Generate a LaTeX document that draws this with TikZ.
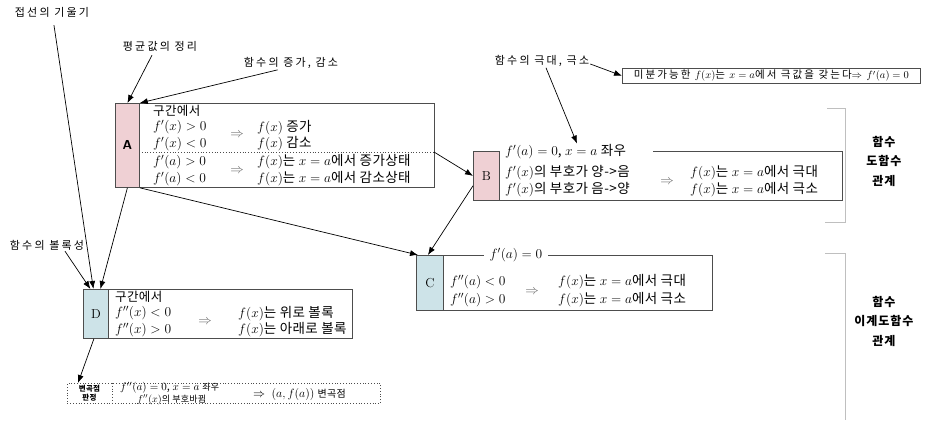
\RequirePackage{fix-cm}
\documentclass[tikz,border=0pt]{standalone}
\usepackage{fontspec}
\newfontfamily\kr[LetterSpace=3]{Noto Sans CJK KR}
\newfontfamily\krl[LetterSpace=20]{Noto Sans CJK KR}
\newfontfamily\krm[LetterSpace=8]{Noto Sans CJK KR}
\usetikzlibrary{arrows.meta,calc}
\definecolor{pinkc}{HTML}{EFD0D4}
\definecolor{bluec}{HTML}{CDE3E8}
\definecolor{edgec}{HTML}{4D4D4D}
\definecolor{brkc}{HTML}{BFBFBF}
\begin{document}
\begin{tikzpicture}[x=1pt,y=-1pt,
  lbl/.style={font=\krl\fontsize{11}{13}\selectfont, inner sep=1pt},
  txt/.style={font=\kr\fontsize{13.5}{15}\selectfont, anchor=west, inner sep=0pt},
  head/.style={font=\kr\fontsize{12.5}{14}\selectfont, anchor=west, inner sep=0pt},
  frame/.style={draw=edgec, line width=0.8pt, anchor=north west, inner sep=0pt},
  cell/.style={draw=edgec, line width=0.8pt, anchor=north west, inner sep=0pt, font=\fontsize{13}{15}\selectfont},
  arr/.style={-{Latex[length=8pt,width=6pt]}, line width=0.7pt},
  imp/.style={font=\fontsize{13.5}{15}\selectfont, inner sep=0pt, text=black!60},
  small/.style={font=\kr\fontsize{9}{11}\selectfont, anchor=west, inner sep=0pt},
  side/.style={font=\krm\bfseries\fontsize{12}{19.5}\selectfont, align=center}
]
\path[use as bounding box] (0,0) rectangle (925,420);

% ---------- labels ----------
\node[lbl] (L1) at (52,12) {접선의 기울기};
\node[lbl] (L2) at (160,46) {평균값의 정리};
\node[lbl] (L3) at (291,63) {함수의 증가, 감소};
\node[lbl] (L4) at (542,61) {함수의 극대, 극소};
\node[lbl] (L5) at (47,245) {함수의 볼록성};

% ---------- top right box ----------
\node[frame, line width=0.6pt, minimum width=298pt, minimum height=15pt] (M) at (622,68) {};
\node[font=\krl\fontsize{10.5}{12}\selectfont, inner sep=0pt] (Mtxt) at (M.center) {미분가능한 $f(x)$는 $x=a$에서 극값을 갖는다$\Rightarrow$ $f'(a)=0$};

% ---------- A ----------
\node[frame, minimum width=319pt, minimum height=84pt] (Abox) at (115,103) {};
\node[cell, fill=pinkc, minimum width=24pt, minimum height=84pt] (A) at (115,103) {\sffamily\bfseries A};
\coordinate (adl) at (139,152);
\coordinate (adot) at (434,152);
\draw[edgec, dotted, line width=0.8pt] (adl) -- (adot);
\node[head] (a1) at (153,111) {구간에서};
\node[txt] (a2) at (153,127.5) {$f'(x)>0$};
\node[txt] (a3) at (153,144) {$f'(x)<0$};
\node[txt] (a4) at (153,162) {$f'(a)>0$};
\node[txt] (a5) at (153,179) {$f'(a)<0$};
\node[imp] (ai1) at (237,135) {$\Rightarrow$};
\node[imp] (ai2) at (237,171) {$\Rightarrow$};
\node[txt] (a6) at (257,127.5) {$f(x)$ 증가};
\node[txt] (a7) at (257,144) {$f(x)$ 감소};
\node[txt] (a8) at (257,162) {$f(x)$는 $x=a$에서 증가상태};
\node[txt] (a9) at (257,179) {$f(x)$는 $x=a$에서 감소상태};

% ---------- B ----------
\node[frame, draw=none, minimum width=369pt, minimum height=49pt] (Bbox) at (473,151) {};
\node[cell, fill=pinkc, minimum width=26pt, minimum height=49pt] (B) at (473,151) {B};
\coordinate (btl) at (653,151);
\draw[edgec, line width=0.8pt] (btl) -- (Bbox.north east) -- (Bbox.south east) -- (Bbox.south west);
\node[txt] (Btop) at (505,152) {$f'(a)=0$, $x=a$ 좌우};
\node[txt] (b1) at (505,173) {$f'(x)$의 부호가 양->음};
\node[txt] (b2) at (505,190) {$f'(x)$의 부호가 음->양};
\node[imp] (bi) at (667,182) {$\Rightarrow$};
\node[txt] (b3) at (690,173) {$f(x)$는 $x=a$에서 극대};
\node[txt] (b4) at (690,190) {$f(x)$는 $x=a$에서 극소};

% ---------- C ----------
\node[frame, minimum width=296pt, minimum height=55pt] (Cbox) at (416,255) {};
\node[cell, fill=bluec, minimum width=27pt, minimum height=55pt] (C) at (416,255) {C};
\node[txt, anchor=center, fill=white, inner xsep=6pt, inner ysep=1pt] (Ctop) at (516,255) {$f'(a)=0$};
\node[txt] (c1) at (450,282) {$f''(a)<0$};
\node[txt] (c2) at (450,300) {$f''(a)>0$};
\node[imp] (ci) at (532,292) {$\Rightarrow$};
\node[txt] (c3) at (558,282) {$f(x)$는 $x=a$에서 극대};
\node[txt] (c4) at (558,300) {$f(x)$는 $x=a$에서 극소};

% ---------- D ----------
\node[frame, minimum width=269pt, minimum height=49pt] (Dbox) at (83,289) {};
\node[cell, fill=bluec, minimum width=25pt, minimum height=49pt] (D) at (83,289) {D};
\node[head] (d1t) at (115,297) {구간에서};
\node[txt] (d2t) at (115,313.5) {$f''(x)<0$};
\node[txt] (d3t) at (115,330) {$f''(x)>0$};
\node[imp] (di) at (205,322) {$\Rightarrow$};
\node[txt] (d4t) at (238,313.5) {$f(x)$는 위로 볼록};
\node[txt] (d5t) at (238,330) {$f(x)$는 아래로 볼록};

% ---------- inflection ----------
\node[frame, dotted, minimum width=313pt, minimum height=20pt] (Ibox) at (67,383) {};
\draw[edgec, dotted, line width=0.8pt] ($(Ibox.north west)+(45,0)$) -- ($(Ibox.south west)+(45,0)$);
\node[font=\kr\bfseries\fontsize{7.5}{9.5}\selectfont, align=center, inner sep=0pt] (Ilab) at (89.5,393) {변곡점\\판정};
\node[small] (i1) at (120,387.5) {\fontsize{11}{13}\selectfont$f''(a)=0$, $x=a$ \fontsize{9}{11}\selectfont 좌우};
\node[small] (i2) at (137,399.5) {\fontsize{10}{12}\selectfont$f''(x)$\fontsize{9}{11}\selectfont 의 부호바뀜};
\node[small] (i3) at (253,394) {\fontsize{12}{14}\selectfont$\Rightarrow$\; $(a,f(a))$ \fontsize{10}{12}\selectfont 변곡점};

% ---------- brackets ----------
\draw[brkc, line width=1pt] (827,108) -- (845,108) -- (845,222) -- (825,222);
\draw[brkc, line width=1pt] (825,253) -- (845,253) -- (845,420);
\node[side] (R1) at (884,161) {함수\\도함수\\관계};
\node[side] (R2) at (884,321) {함수\\이계도함수\\관계};

% ---------- connector targets ----------
\coordinate (dIn1) at ($(D.north)+(-5.5,0)$);
\coordinate (dIn2) at ($(D.north)+(-2.5,0)$);
\coordinate (dIn3) at ($(D.north)+(4.5,0)$);

% ---------- connectors ----------
\draw[arr, shorten <=7pt] (L1) -- (dIn2);
\draw[arr] ($(L2.south)+(-8,3)$) -- (A.north);
\draw[arr] ($(L3.south west)+(35,0)$) -- (A.north east);
\draw[arr] ($(L4.east)+(0,3)$) -- (M.west);
\draw[arr] ($(L4.south)+(4,0)$) -- ($(Btop.north west)+(72,-1)$);
\draw[arr] (adot) -- (B.west);
\draw[arr] ($(B.south west)+(0,-15)$) -- ($(C.north)+(-2,0)$);
\draw[arr] (A.south east) -- ($(C.north west)+(2,0)$);
\draw[arr] (A.south) -- (dIn3);
\draw[arr] ($(L5.south)+(18,0)$) -- (dIn1);
\draw[arr] ($(D.south)+(-2,0)$) -- ($(Ibox.north west)+(11,0)$);
\end{tikzpicture}
\end{document}
